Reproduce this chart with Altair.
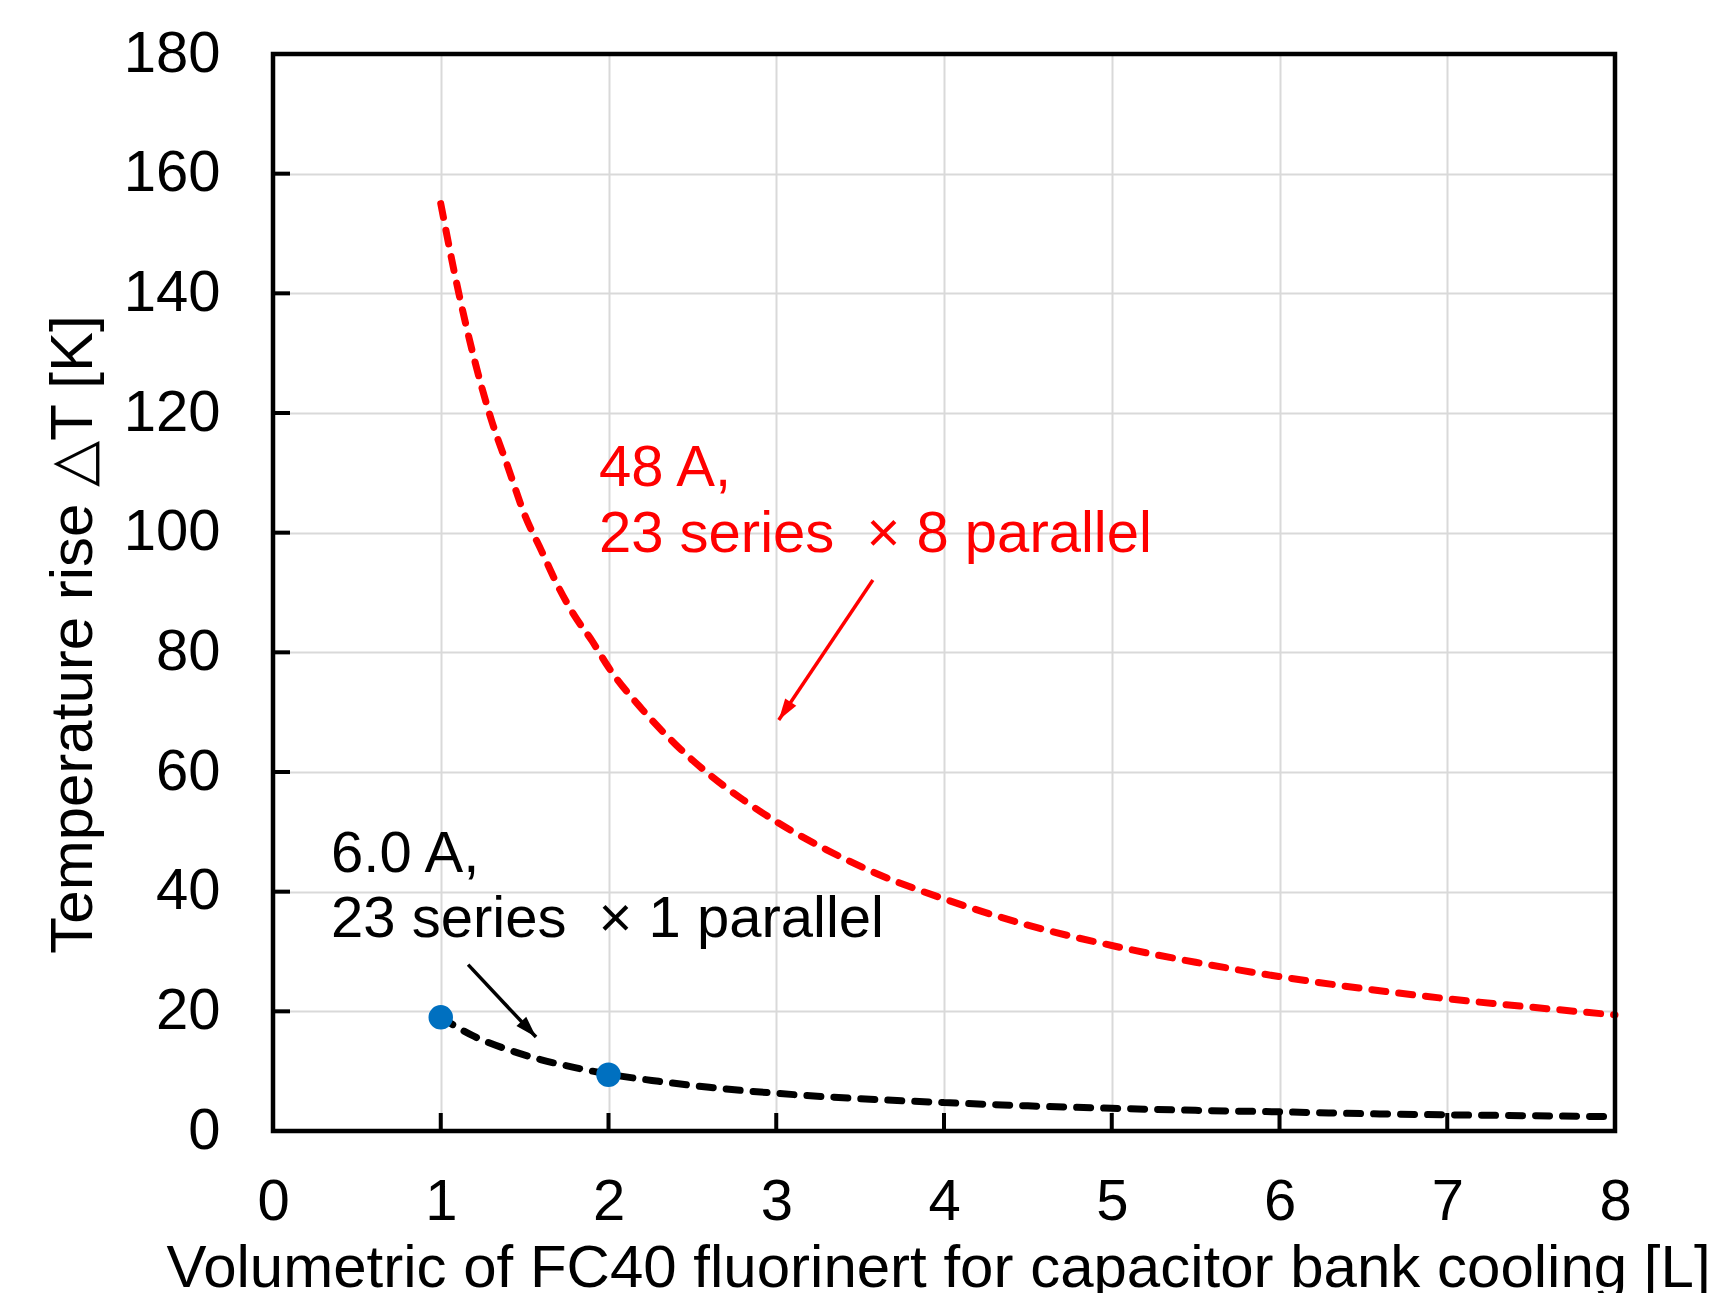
import math
import altair as alt
import pandas as pd

# ---------------- data ----------------
red_x = [1.0, 1.1, 1.2, 1.3, 1.4, 1.5, 1.6, 1.7, 1.8, 1.9, 2.0, 2.2, 2.4, 2.6, 2.8,
         3.0, 3.3, 3.6, 4.0, 4.5, 5.0, 5.5, 6.0, 6.5, 7.0, 7.5, 8.0]
red_y = [155, 141, 129, 119, 111, 103, 97, 91, 86, 82, 77.5, 70.5, 64.6, 59.6, 55.4,
         51.7, 47, 43, 38.8, 34.4, 31, 28.2, 25.8, 23.8, 22.1, 20.7, 19.4]

black_x = [1.0, 1.2, 1.4, 1.6, 1.8, 2.0, 2.3, 2.6, 3.0, 3.5, 4.0, 4.5, 5.0, 5.5,
           6.0, 6.5, 7.0, 7.5, 7.95]
black_y = [19.0, 15.8, 13.6, 11.9, 10.6, 9.5, 8.3, 7.3, 6.3, 5.4, 4.75, 4.2, 3.8,
           3.45, 3.2, 2.9, 2.7, 2.55, 2.4]

pts_x = [1, 2]
pts_y = [19.0, 9.4]

x_ticks = [0, 1, 2, 3, 4, 5, 6, 7, 8]
y_ticks = [0, 20, 40, 60, 80, 100, 120, 140, 160, 180]
x_inner_ticks = [1, 2, 3, 4, 5, 6, 7]
y_inner_ticks = [20, 40, 60, 80, 100, 120, 140, 160]

# annotation texts (data-space anchors)
ann_text = ["48 A,", "23 series\u00a0 \u00d7 8 parallel", "6.0 A,", "23 series\u00a0 \u00d7 1 parallel"]
ann_x = [1.943, 1.943, 0.346, 0.346]
ann_y = [107.8, 96.8, 43.3, 32.4]
ann_color = ["#FF0000", "#FF0000", "#000000", "#000000"]

# arrows: start -> end (data space)
arr_x1 = [3.576, 1.163]
arr_y1 = [92.1, 27.8]
arr_x2 = [3.015, 1.568]
arr_y2 = [68.7, 15.7]
arr_color = ["#FF0000", "#000000"]

# ---------------- layout ----------------
W, H = 1342, 1077
FONT = "Liberation Sans, Arial, sans-serif"
FS = 58

red_df = pd.DataFrame({"x": red_x, "y": red_y})
black_df = pd.DataFrame({"x": black_x, "y": black_y})
pts_df = pd.DataFrame({"x": pts_x, "y": pts_y})
ann_df = pd.DataFrame({"x": ann_x, "y": ann_y, "t": ann_text, "c": ann_color})

angles = []
for a, b, c, d in zip(arr_x1, arr_y1, arr_x2, arr_y2):
    dxp = (c - a) * W / 8.0
    dyp = -(d - b) * H / 180.0
    angles.append(math.degrees(math.atan2(dxp, -dyp)) % 360)
arr_df = pd.DataFrame({"x": arr_x1, "y": arr_y1, "x2": arr_x2, "y2": arr_y2,
                       "c": arr_color, "ang": angles})

xscale = alt.Scale(domain=[0, 8], nice=False, zero=False)
yscale = alt.Scale(domain=[0, 180], nice=False, zero=False)

x_axis = alt.Axis(
    values=x_ticks, grid=True, gridColor="#D9D9D9", gridWidth=2,
    domain=False, ticks=False, tickSize=0, labelFontSize=FS, labelFont=FONT,
    labelColor="black", labelPadding=42, labelFlush=False, labelOverlap=False,
    title="Volumetric of FC40 fluorinert for capacitor bank cooling [L]",
    titleFont=FONT, titleFontSize=60, titleFontWeight="normal", titleColor="black",
    titleX=665, titleY=155, titleAlign="center", titleBaseline="alphabetic",
)
y_axis = alt.Axis(
    values=y_ticks, grid=True, gridColor="#D9D9D9", gridWidth=2,
    domain=False, ticks=False, tickSize=0, labelFontSize=FS, labelFont=FONT,
    labelColor="black", labelPadding=53, labelFlush=False, labelOverlap=False,
    title="Temperature rise \u25B3T [K]",
    titleFont=FONT, titleFontSize=60, titleFontWeight="normal", titleColor="black",
    titleAngle=270, titleX=-182, titleY=580, titleAlign="center",
    titleBaseline="alphabetic",
)

X = lambda f: alt.X(f, type="quantitative", scale=xscale, axis=x_axis)
Y = lambda f: alt.Y(f, type="quantitative", scale=yscale, axis=y_axis)

red_line = alt.Chart(red_df).mark_line(
    color="#FF0000", strokeWidth=7, strokeDash=[14, 13], strokeCap="round",
    interpolate="monotone",
).encode(x=X("x"), y=Y("y"))

black_line = alt.Chart(black_df).mark_line(
    color="#000000", strokeWidth=7, strokeDash=[14, 13], strokeCap="round",
    interpolate="monotone",
).encode(x=X("x"), y=Y("y"))

points = alt.Chart(pts_df).mark_circle(
    color="#0070C0", size=600, opacity=1
).encode(x=X("x"), y=Y("y"))

ytick_df = pd.DataFrame({"v": y_inner_ticks})
xtick_df = pd.DataFrame({"v": x_inner_ticks})
ytick_rules = alt.Chart(ytick_df).mark_rule(color="black", strokeWidth=4).encode(
    y=Y("v"), x=alt.value(0), x2=alt.value(17)
)
xtick_rules = alt.Chart(xtick_df).mark_rule(color="black", strokeWidth=4).encode(
    x=X("v"), y=alt.value(H), y2=alt.value(H - 18)
)

frame = alt.Chart(pd.DataFrame({"v": [0]})).mark_rect(
    fill=None, fillOpacity=0, stroke="black", strokeWidth=4.5,
).encode(x=alt.value(0), x2=alt.value(W), y=alt.value(0), y2=alt.value(H))

arrows = alt.Chart(arr_df).mark_rule(strokeWidth=3.5).encode(
    x=X("x"), y=Y("y"), x2="x2", y2="y2",
    color=alt.Color("c:N", scale=None),
)
heads = alt.Chart(arr_df).mark_point(
    shape="M0,0 L-0.5,1.6 L0.5,1.6 Z", filled=True, size=720, opacity=1,
).encode(
    x=X("x2"), y=Y("y2"),
    angle=alt.Angle("ang:Q", scale=None),
    color=alt.Color("c:N", scale=None),
)

texts = alt.Chart(ann_df).mark_text(
    align="left", baseline="alphabetic", font=FONT, fontSize=FS,
).encode(
    x=X("x"), y=Y("y"), text="t:N",
    color=alt.Color("c:N", scale=None),
)

chart = alt.layer(
    red_line, black_line, points, ytick_rules, xtick_rules, frame, arrows, heads, texts
).properties(
    width=W, height=H,
    autosize=alt.AutoSizeParams(type="none"),
    padding={"left": 273, "top": 54, "right": 100, "bottom": 162},
    background="white",
).configure_view(
    stroke=None,
)

chart.save("out.html", embed_options={"renderer": "svg", "actions": False})
